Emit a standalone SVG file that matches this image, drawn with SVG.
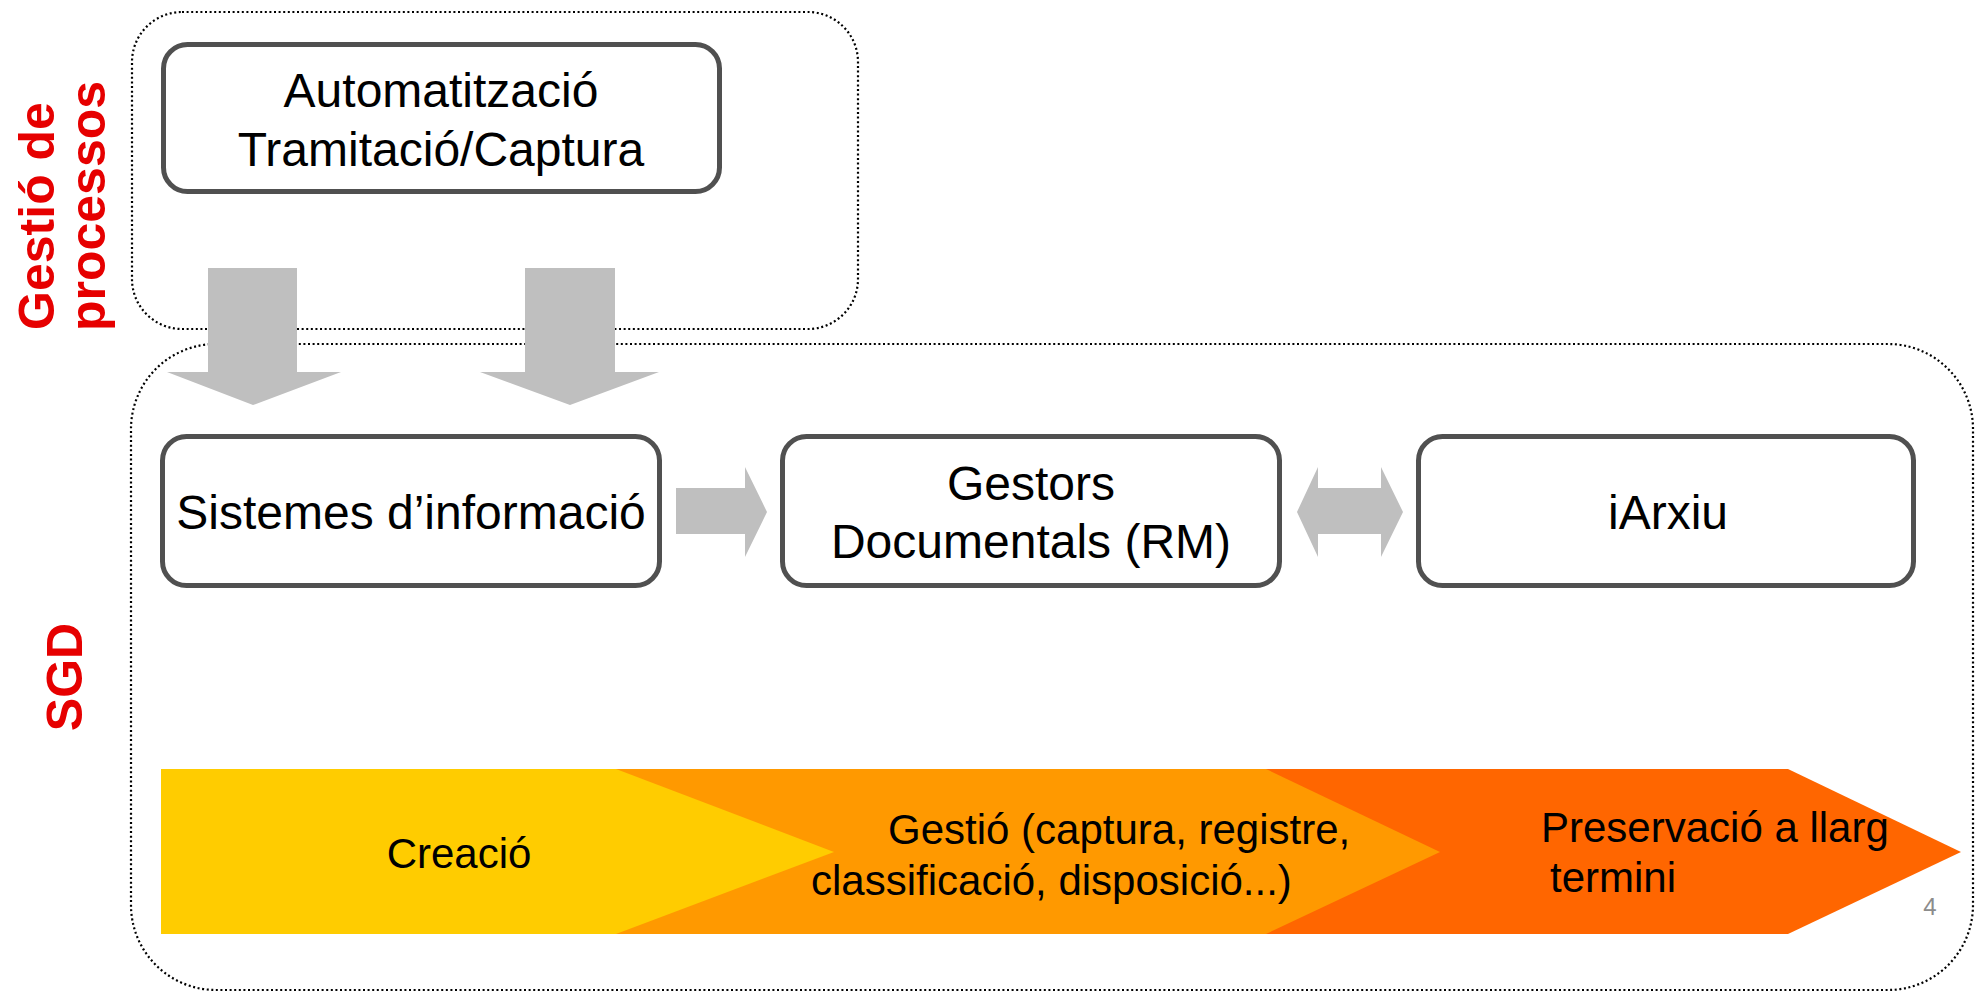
<svg xmlns="http://www.w3.org/2000/svg" width="1975" height="992" viewBox="0 0 1975 992">
<style>
.region{fill:none;stroke:#000;stroke-width:2.2;stroke-dasharray:2 2.6}
.box{fill:#fff;stroke:#505050;stroke-width:5}
.arr{fill:#BFBFBF}
.t{font-family:"Liberation Sans",Arial,sans-serif;font-size:48px;fill:#000;text-anchor:middle}
.bt{font-family:"Liberation Sans",Arial,sans-serif;font-size:42px;fill:#000}
.lab{font-family:"Liberation Sans",Arial,sans-serif;font-size:50px;font-weight:bold;fill:#E60000;text-anchor:middle}
</style>
<rect width="1975" height="992" fill="#fff"/>
<g id="regions">
<rect id="region-processos" class="region" x="132" y="12" width="726" height="317" rx="50"/>
<rect id="region-sgd" class="region" x="131" y="344" width="1842" height="646" rx="85"/>
</g>
<g id="labels">
<text class="lab" transform="translate(54,216) rotate(-90)">Gestió de</text>
<text class="lab" transform="translate(105,206) rotate(-90)">processos</text>
<text class="lab" transform="translate(82,677) rotate(-90)">SGD</text>
</g>
<g id="band">
<polygon fill="#FF6600" points="1266,769 1788,769 1961,852 1788,934 1266,934"/>
<polygon fill="#FF9900" points="616,769 1266,769 1440,852 1266,934 616,934"/>
<polygon fill="#FFCC00" points="161,769 616,769 834,852 616,934 161,934"/>
<text class="bt" x="459" y="868" text-anchor="middle">Creació</text>
<text class="bt" x="888" y="844">Gestió (captura, registre,</text>
<text class="bt" x="811" y="895">classificació, disposició...)</text>
<text class="bt" x="1541" y="842">Preservació a llarg</text>
<text class="bt" x="1550" y="892">termini</text>
</g>
<g id="connectors">
<polygon class="arr" points="208,268 297,268 297,372 341,372 253,405 167,372 208,372"/>
<polygon class="arr" points="525,268 615,268 615,372 659,372 570,405 480,372 525,372"/>
<polygon class="arr" points="676,488 745,488 745,467 767,512 745,557 745,534 676,534"/>
<polygon class="arr" points="1297,512 1318,467 1318,488 1381,488 1381,467 1403,512 1381,557 1381,534 1318,534 1318,557"/>
</g>
<g id="node-automatitzacio">
<rect class="box" x="163.5" y="44.5" width="556" height="147" rx="24"/>
<text class="t" x="441" y="107">Automatització</text>
<text class="t" x="441" y="166">Tramitació/Captura</text>
</g>
<g id="node-sistemes">
<rect class="box" x="162.5" y="436.5" width="497" height="149" rx="24"/>
<text class="t" x="411" y="529">Sistemes d’informació</text>
</g>
<g id="node-gestors">
<rect class="box" x="782.5" y="436.5" width="497" height="149" rx="24"/>
<text class="t" x="1031" y="500">Gestors</text>
<text class="t" x="1031" y="558">Documentals (RM)</text>
</g>
<g id="node-iarxiu">
<rect class="box" x="1418.5" y="436.5" width="495" height="149" rx="24"/>
<text class="t" x="1668" y="529">iArxiu</text>
</g>
<text x="1930" y="915" font-family="Liberation Sans, Arial, sans-serif" font-size="24" fill="#8C8C8C" text-anchor="middle">4</text>
</svg>
